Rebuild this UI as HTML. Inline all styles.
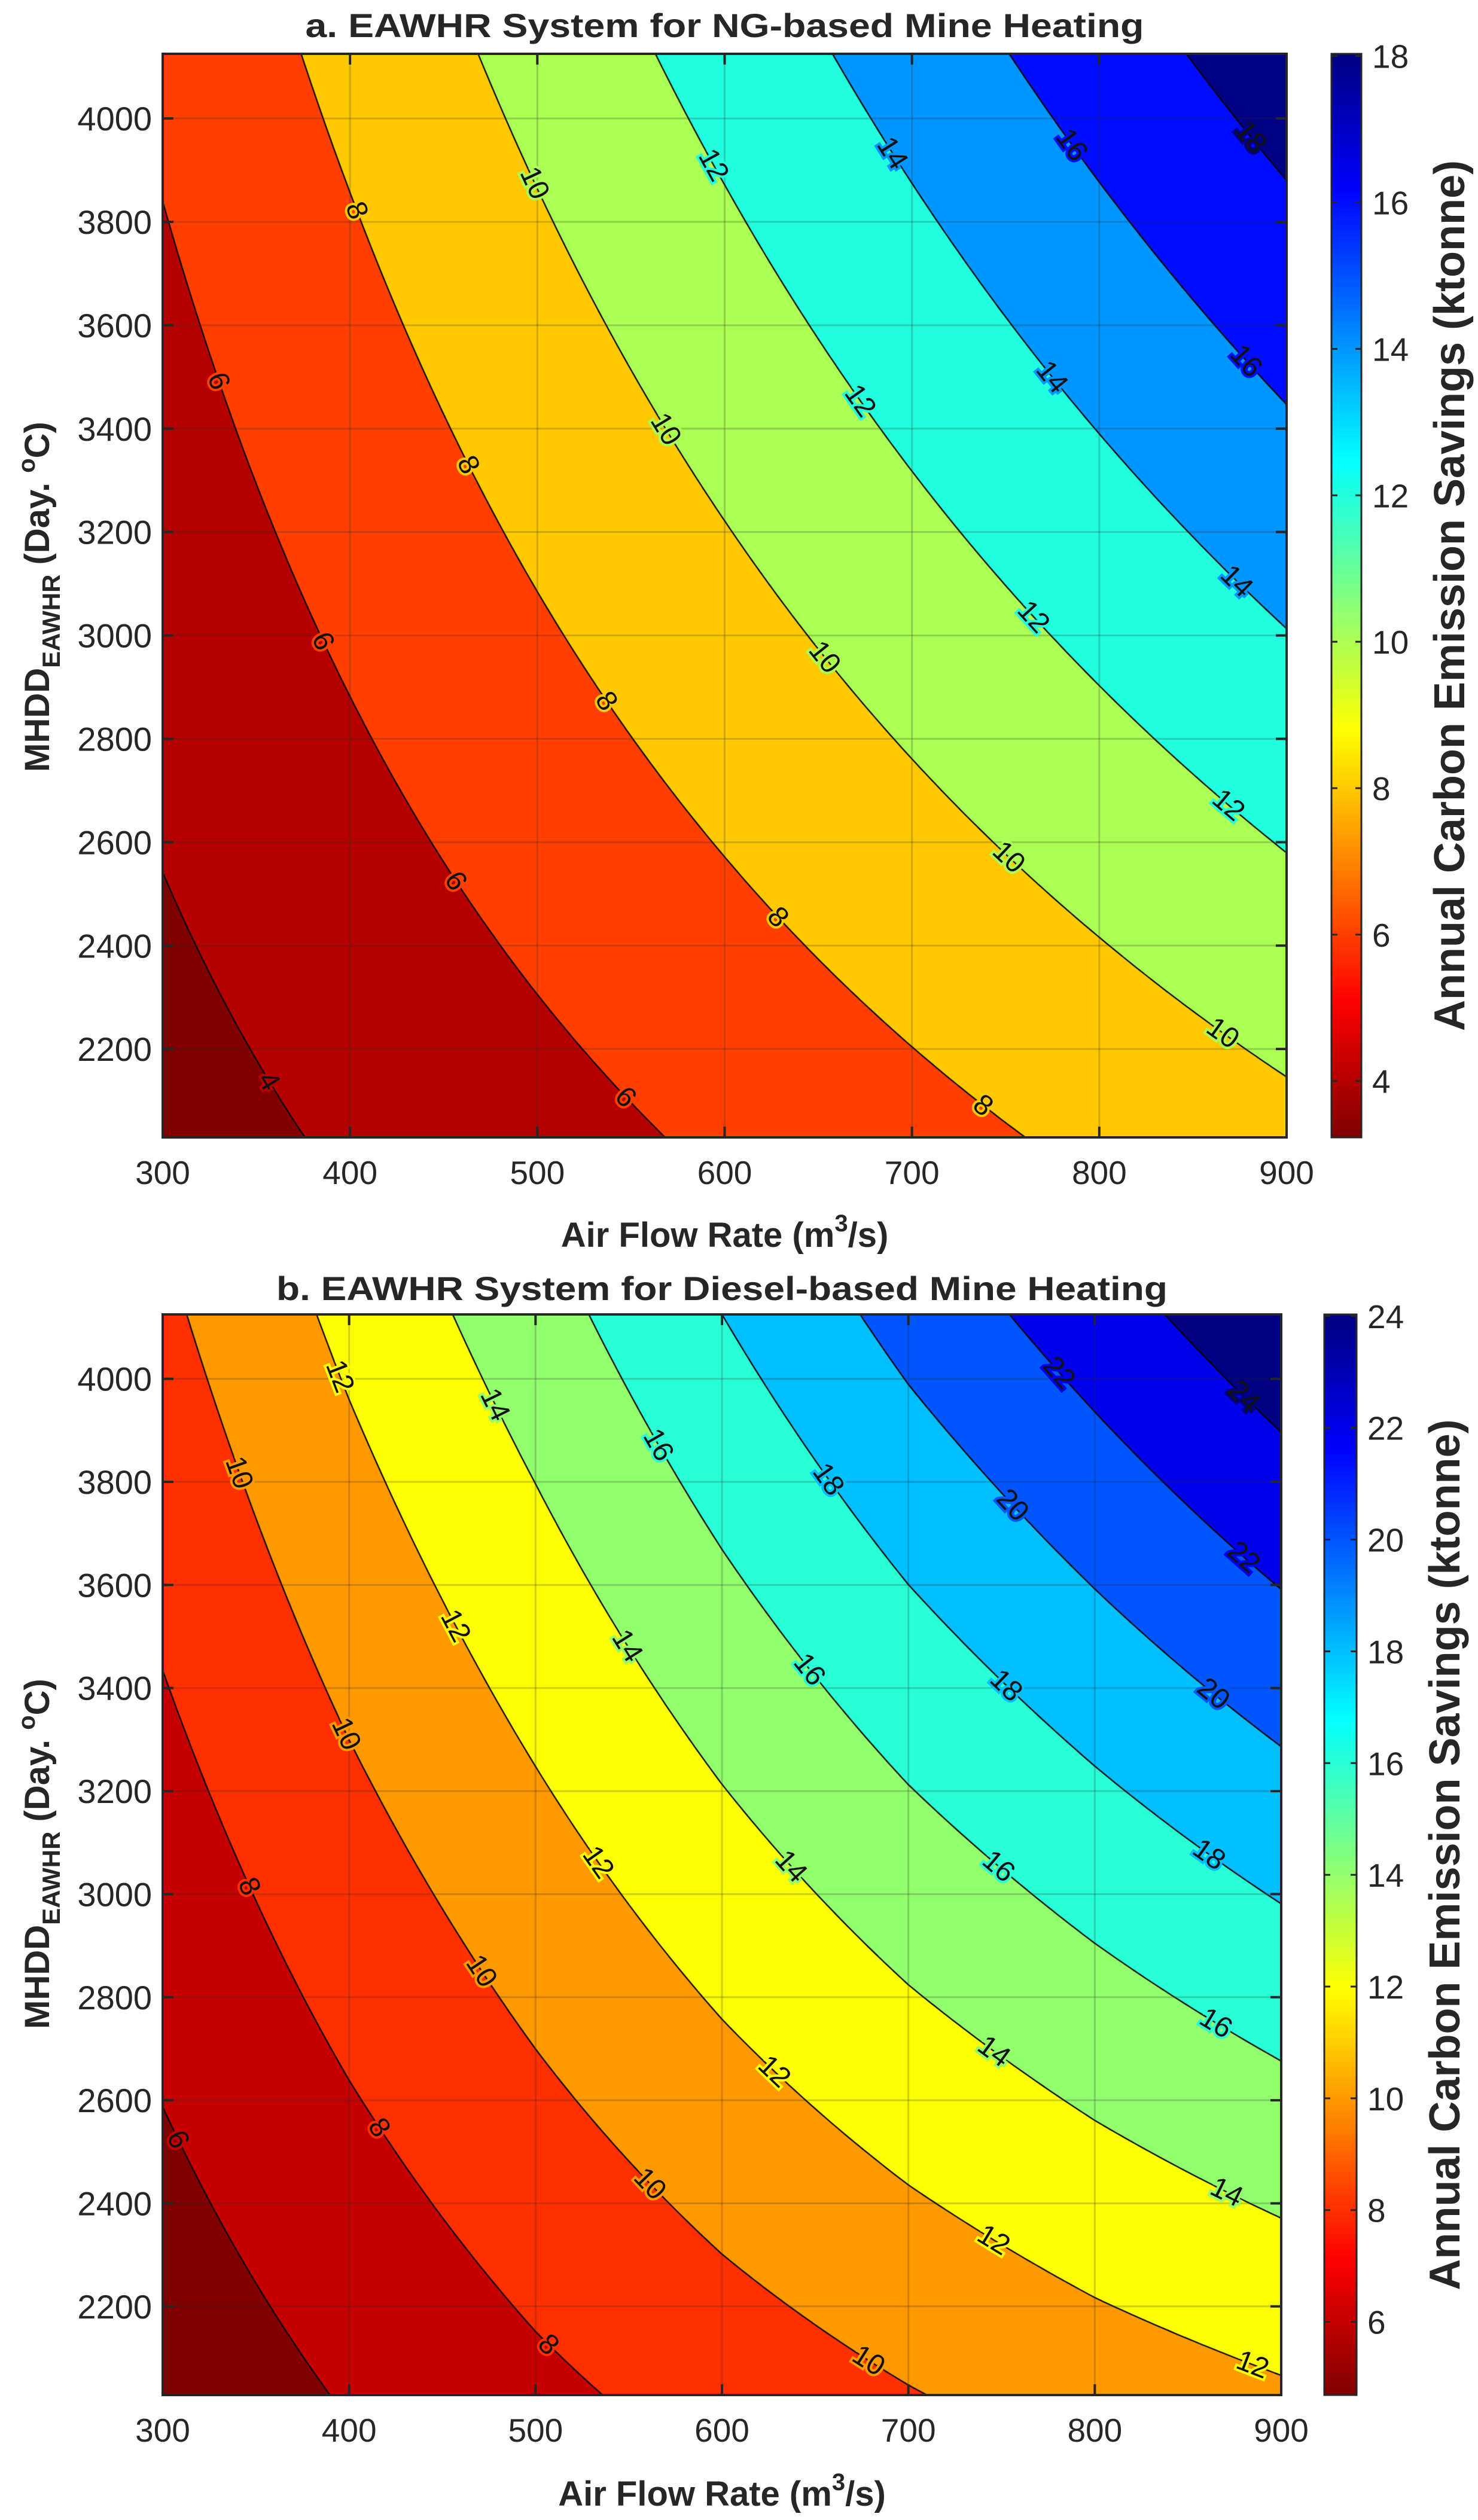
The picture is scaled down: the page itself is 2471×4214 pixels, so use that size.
<!DOCTYPE html>
<html><head><meta charset="utf-8">
<style>
html,body{margin:0;padding:0;background:#fff;}
#root{position:relative;width:2471px;height:4214px;overflow:hidden;background:#fff;}
canvas{position:absolute;}
svg{position:absolute;left:0;top:0;}
text{font-family:"Liberation Sans",Arial,sans-serif;fill:#262626;}
</style></head>
<body>
<div id="root">
<canvas id="cvA"></canvas>
<canvas id="cvB"></canvas>
<svg id="svg" width="2471" height="4214" xmlns="http://www.w3.org/2000/svg"></svg>
</div>
<script>
// ---------- DATA: panel a (NG-based) ----------
const aX = [300, 400, 500, 600, 700, 800, 900];
const aY = [2029, 4125];
const aZBottom = [3.21, 4.25, 5.29, 6.33, 7.37, 8.41, 9.46];
const aZTop = [6.44, 8.55, 10.67, 12.78, 14.90, 17.02, 19.13];
const aLevels = [4, 6, 8, 10, 12, 14, 16, 18];
const aCLim = [3.23, 18.03];
const aCTicks = [4, 6, 8, 10, 12, 14, 16, 18];
const aLabelLevels = [4,6,6,6,6,8,8,8,8,8,10,10,10,10,10,12,12,12,12,14,14,14,16,16,18];
const aLabelYs = [2138,3492,2989,2525,2107,3822,3330,2873,2455,2091,3875,3399,2958,2571,2231,3910,3454,3036,2672,3933,3500,3105,3949,3531,3964];
// ---------- DATA: panel b (Diesel-based) ----------
const bX = [300, 400, 500, 600, 700, 800, 900];
const bY = [2028, 4125];
const bZBottom = [4.68, 6.15, 7.55, 8.8, 9.9, 10.9, 11.75];
const bZTop = [9.63, 12.5, 15.2, 18.0, 20.7, 23.1, 25.5];
const bLevels = [6, 8, 10, 12, 14, 16, 18, 20, 22, 24];
const bCLim = [4.69, 24.03];
const bCTicks = [6, 8, 10, 12, 14, 16, 18, 20, 22, 24];
const bLabelLevels = [6,8,8,8,10,10,10,10,10,12,12,12,12,12,12,14,14,14,14,14,16,16,16,16,18,18,18,20,20,22,22,24];
const bLabelYs = [2524,3015,2547,2126,3818,3311,2851,2438,2095,4005,3521,3062,2656,2329,2087,3950,3482,3054,2695,2422,3872,3436,3054,2750,3805,3405,3077,3755,3389,4012,3654,3966];
// shared axis ticks
const xTicks = [300, 400, 500, 600, 700, 800, 900];
const yTicks = [2200, 2400, 2600, 2800, 3000, 3200, 3400, 3600, 3800, 4000];

const NS = "http://www.w3.org/2000/svg";
const svg = document.getElementById('svg');
function el(tag, attrs, parent) {
  const e = document.createElementNS(NS, tag);
  for (const k in attrs) e.setAttribute(k, attrs[k]);
  (parent || svg).appendChild(e);
  return e;
}
function jet(v, clim) {
  let t = 1 - (v - clim[0]) / (clim[1] - clim[0]);
  t = Math.max(0, Math.min(1, t));
  const c = x => Math.round(255 * Math.max(0, Math.min(1, x)));
  return [c(1.5 - Math.abs(4*t - 3)), c(1.5 - Math.abs(4*t - 2)), c(1.5 - Math.abs(4*t - 1))];
}
function makeField(X, Y, Zb, Zt) {
  return function (x, y) {
    let i = 0;
    while (i < X.length - 2 && x > X[i+1]) i++;
    const tx = (x - X[i]) / (X[i+1] - X[i]);
    const ty = (y - Y[0]) / (Y[1] - Y[0]);
    const zb = Zb[i] + (Zb[i+1] - Zb[i]) * tx;
    const zt = Zt[i] + (Zt[i+1] - Zt[i]) * tx;
    return zb + (zt - zb) * ty;
  };
}

function drawPanel(P) {
  const W = P.right - P.left, H = P.bottom - P.top;
  const xMin = P.X[0], xMax = P.X[P.X.length-1], yMin = P.Y[0], yMax = P.Y[P.Y.length-1];
  const sx = x => P.left + (x - xMin) / (xMax - xMin) * W;
  const sy = y => P.bottom - (y - yMin) / (yMax - yMin) * H;
  const f = makeField(P.X, P.Y, P.Zb, P.Zt);
  const cv = document.getElementById(P.canvas);
  cv.width = W; cv.height = H;
  cv.style.left = P.left + 'px'; cv.style.top = P.top + 'px';
  const ctx = cv.getContext('2d');
  const img = ctx.createImageData(W, H);
  const bandCols = [jet(P.clim[0], P.clim)].concat(P.levels.map(l => jet(l, P.clim)));
  for (let py = 0; py < H; py++) {
    const y = yMax - (py + 0.5) / H * (yMax - yMin);
    for (let px = 0; px < W; px++) {
      const x = xMin + (px + 0.5) / W * (xMax - xMin);
      const z = f(x, y);
      let b = 0; while (b < P.levels.length && z >= P.levels[b]) b++;
      const c = bandCols[b], o = (py * W + px) * 4;
      img.data[o] = c[0]; img.data[o+1] = c[1]; img.data[o+2] = c[2]; img.data[o+3] = 255;
    }
  }
  ctx.putImageData(img, 0, 0);
  const N = 150, M = 150;
  ctx.strokeStyle = '#000'; ctx.lineWidth = 2.2;
  const gx = i => xMin + i / N * (xMax - xMin), gy = j => yMin + j / M * (yMax - yMin);
  const toPx = (x, y) => [(x - xMin) / (xMax - xMin) * W, H - (y - yMin) / (yMax - yMin) * H];
  P.levels.forEach(L => {
    ctx.beginPath();
    for (let i = 0; i < N; i++) for (let j = 0; j < M; j++) {
      const x0 = gx(i), x1 = gx(i+1), y0 = gy(j), y1 = gy(j+1);
      const c = [[x0,y0,f(x0,y0)],[x1,y0,f(x1,y0)],[x1,y1,f(x1,y1)],[x0,y1,f(x0,y1)]];
      const pts = [];
      for (let k = 0; k < 4; k++) {
        const a = c[k], b = c[(k+1)%4];
        if ((a[2] < L) !== (b[2] < L)) {
          const t = (L - a[2]) / (b[2] - a[2]);
          pts.push(toPx(a[0] + (b[0]-a[0])*t, a[1] + (b[1]-a[1])*t));
        }
      }
      if (pts.length >= 2) { ctx.moveTo(pts[0][0], pts[0][1]); ctx.lineTo(pts[1][0], pts[1][1]); }
      if (pts.length === 4) { ctx.moveTo(pts[2][0], pts[2][1]); ctx.lineTo(pts[3][0], pts[3][1]); }
    }
    ctx.stroke();
  });
  const g = el('g', { });
  xTicks.forEach(t => { if (t > xMin && t < xMax) el('line', {x1: sx(t), x2: sx(t), y1: P.top, y2: P.bottom, stroke: 'rgba(40,40,40,0.22)', 'stroke-width': 3}, g); });
  yTicks.forEach(t => { el('line', {x1: P.left, x2: P.right, y1: sy(t), y2: sy(t), stroke: 'rgba(40,40,40,0.22)', 'stroke-width': 3}, g); });
  const lg = el('g', { });
  P.labelLevels.forEach((L, k) => {
    const y = P.labelYs[k];
    let lo = xMin, hi = xMax;
    if (f(lo, y) > L || f(hi, y) < L) return;
    for (let it = 0; it < 40; it++) { const m = (lo + hi) / 2; if (f(m, y) < L) lo = m; else hi = m; }
    const x = (lo + hi) / 2;
    const dxp = 2, dyp = 2;
    const gpx = (f(x + dxp * (xMax-xMin)/W, y) - f(x, y)) / dxp;
    const gpy = (f(x, y - dyp * (yMax-yMin)/H) - f(x, y)) / dyp;
    let ang = Math.atan2(-gpx, gpy) * 180 / Math.PI;
    while (ang > 90) ang -= 180; while (ang <= -90) ang += 180;
    const X0 = sx(x), Y0 = sy(y);
    const bc = jet(L, P.clim);
    const t = el('text', {x: X0, y: Y0, 'font-size': 48, 'text-anchor': 'middle', 'dominant-baseline': 'central', transform: `rotate(${ang.toFixed(1)} ${X0.toFixed(1)} ${Y0.toFixed(1)})`, style: `fill:#111;stroke:rgb(${bc[0]},${bc[1]},${bc[2]});stroke-width:8;paint-order:stroke`}, lg);
    
    
    t.textContent = String(L);
  });
  const ag = el('g', { });
  el('rect', {x: P.left, y: P.top, width: W, height: H, fill: 'none', stroke: '#262626', 'stroke-width': 4}, ag);
  const TL = 18;
  xTicks.forEach(t => {
    const X0 = sx(t);
    el('line', {x1: X0, x2: X0, y1: P.bottom, y2: P.bottom - TL, stroke: '#262626', 'stroke-width': 4}, ag);
    el('line', {x1: X0, x2: X0, y1: P.top, y2: P.top + TL, stroke: '#262626', 'stroke-width': 4}, ag);
    const tx = el('text', {x: X0, y: P.bottom + 78, 'font-size': 55, 'text-anchor': 'middle'}, ag);
    
    
    tx.textContent = t;
  });
  yTicks.forEach(t => {
    const Y0 = sy(t);
    el('line', {x1: P.left, x2: P.left + TL, y1: Y0, y2: Y0, stroke: '#262626', 'stroke-width': 4}, ag);
    el('line', {x1: P.right, x2: P.right - TL, y1: Y0, y2: Y0, stroke: '#262626', 'stroke-width': 4}, ag);
    const ty = el('text', {x: P.left - 18, y: Y0 + 20, 'font-size': 56, 'text-anchor': 'end'}, ag);
    
    
    ty.textContent = t;
  });
  const ti = el('text', {x: (P.left + P.right) / 2, y: P.titleY, 'font-size': 56, 'font-weight': 'bold', 'text-anchor': 'middle', textLength: P.titleW, lengthAdjust: 'spacingAndGlyphs'});
  
  
  ti.textContent = P.title;
  const xl = el('text', {x: (P.left + P.right) / 2, y: P.xlabelY, 'font-size': 58, 'font-weight': 'bold', 'text-anchor': 'middle'});
  
  
  xl.innerHTML = 'Air Flow Rate (m<tspan dy="-26" font-size="40">3</tspan><tspan dy="26">/s)</tspan>';
  const yl = el('text', {x: 0, y: 0, 'font-size': 58, 'font-weight': 'bold', 'text-anchor': 'middle', transform: `translate(${P.ylabelX} ${P.ylabelCY}) rotate(-90)`});
  
  
  yl.innerHTML = 'MHDD<tspan dy="18" font-size="42">EAWHR</tspan><tspan dy="-18"> (Day. </tspan><tspan dy="-24" font-size="40">o</tspan><tspan dy="24">C)</tspan>';
  const cg = el('g', { });
  const gid = P.id + '-grad';
  const defs = el('defs', {}, cg);
  const lgd = el('linearGradient', {id: gid, x1: 0, y1: 1, x2: 0, y2: 0}, defs);
  for (let s = 0; s <= 40; s++) {
    const v = P.clim[0] + s / 40 * (P.clim[1] - P.clim[0]);
    const c = jet(v, P.clim);
    el('stop', {offset: s / 40, 'stop-color': `rgb(${c[0]},${c[1]},${c[2]})`}, lgd);
  }
  el('rect', {x: P.cbL, y: P.top, width: P.cbW, height: H, fill: `url(#${gid})`, stroke: '#262626', 'stroke-width': 3}, cg);
  const cy = v => P.bottom - (v - P.clim[0]) / (P.clim[1] - P.clim[0]) * H;
  P.cticks.forEach(t => {
    const Y0 = cy(t);
    el('line', {x1: P.cbL, x2: P.cbL + 10, y1: Y0, y2: Y0, stroke: '#262626', 'stroke-width': 3}, cg);
    el('line', {x1: P.cbL + P.cbW, x2: P.cbL + P.cbW - 10, y1: Y0, y2: Y0, stroke: '#262626', 'stroke-width': 3}, cg);
    const ct = el('text', {x: P.cbL + P.cbW + 18, y: Y0 + 20, 'font-size': 55}, cg);
    
    
    ct.textContent = t;
  });
  const cl = el('text', {x: 0, y: 0, 'font-size': 72, 'font-weight': 'bold', 'text-anchor': 'middle', transform: `translate(${P.cblabelX} ${(P.top + P.bottom) / 2}) rotate(-90)`});
  
  
  cl.textContent = 'Annual Carbon Emission Savings (ktonne)';
}

drawPanel({id: 'panel-a', canvas: 'cvA', X: aX, Y: aY, Zb: aZBottom, Zt: aZTop, levels: aLevels, clim: aCLim, cticks: aCTicks,
  labelLevels: aLabelLevels, labelYs: aLabelYs,
  left: 272, right: 2151, top: 90, bottom: 1902, cbL: 2226, cbW: 50,
  title: 'a. EAWHR System for NG-based Mine Heating', titleY: 62, titleW: 1402,
  xlabelY: 2085, ylabelX: 82, ylabelCY: 998, cblabelX: 2448});
drawPanel({id: 'panel-b', canvas: 'cvB', X: bX, Y: bY, Zb: bZBottom, Zt: bZTop, levels: bLevels, clim: bCLim, cticks: bCTicks,
  labelLevels: bLabelLevels, labelYs: bLabelYs,
  left: 272, right: 2142, top: 2198, bottom: 4005, cbL: 2214, cbW: 54,
  title: 'b. EAWHR System for Diesel-based Mine Heating', titleY: 2174, titleW: 1490,
  xlabelY: 4190, ylabelX: 82, ylabelCY: 3100, cblabelX: 2440});
</script>
</body></html>
